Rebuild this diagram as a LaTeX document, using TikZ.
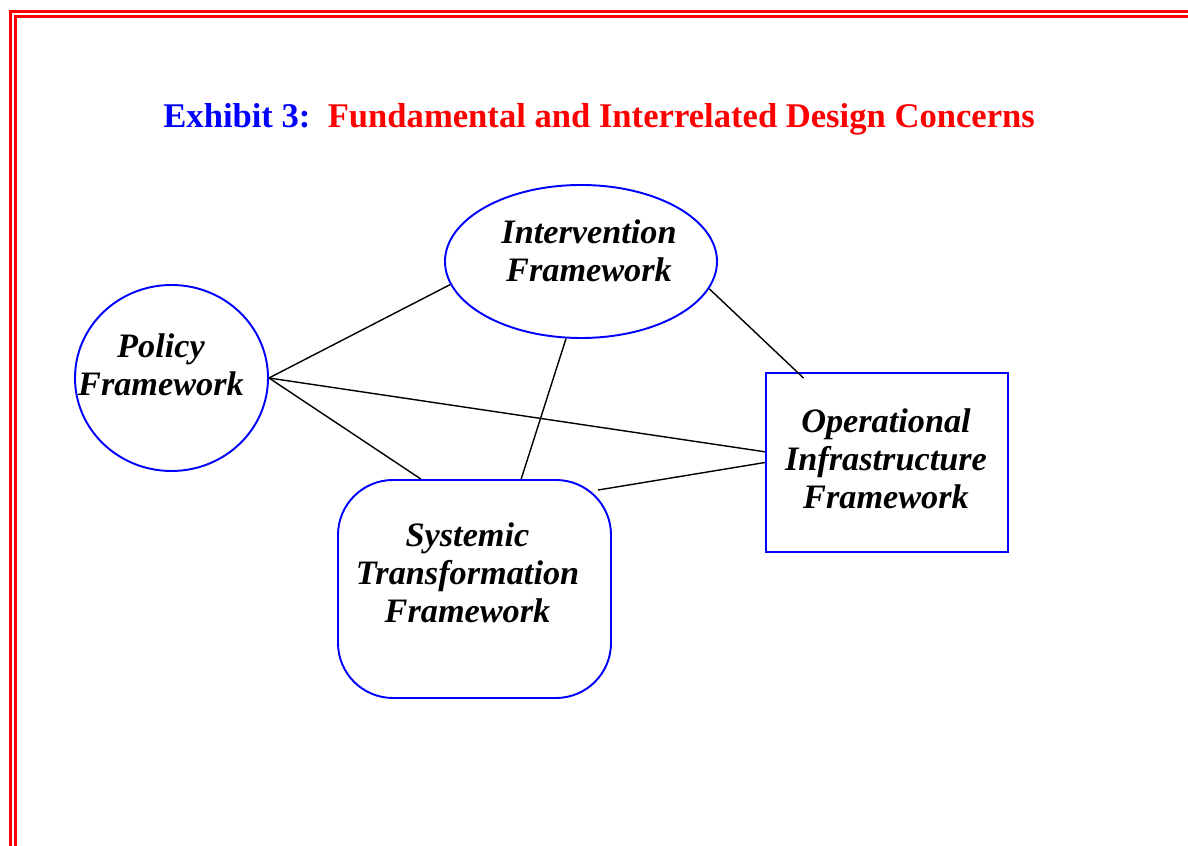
\documentclass[tikz,border=0pt]{standalone}
\usepackage{fontspec}
\setmainfont{Liberation Serif}
\usetikzlibrary{shapes.geometric}

\begin{document}
\begin{tikzpicture}[
	frame/.style={draw=blue,line width=1.1pt,inner sep=0pt},
	lbl/.style={align=center,font=\fontsize{19.5}{21.5}\selectfont\bfseries\itshape},
	link/.style={line width=0.8pt}]
			\useasboundingbox (0,0) rectangle (23.76,16.92);
			
			% double red border
			\draw[red,line width=1.7pt] (0.18,16.694) -- (23.76,16.694);
			\draw[red,line width=1.7pt] (0.21,16.72) -- (0.21,0);
			\draw[red,line width=1.7pt] (0.30,16.59) -- (23.76,16.59);
			\draw[red,line width=1.7pt] (0.31,16.62) -- (0.31,0);
			
			\node[anchor=base west,inner sep=0pt,font=\fontsize{19.7}{22}\selectfont\bfseries] (title) at (3.26,14.36)
				{\textcolor{blue}{Exhibit 3:}\ \ \textcolor{red}{Fundamental and Interrelated Design Concerns}};
			
			\node[frame,ellipse,minimum width=5.44cm,minimum height=3.06cm] (int) at (11.62,11.69) {};
			\node[frame,ellipse,minimum width=3.86cm,minimum height=3.72cm] (pol) at (3.43,9.36) {};
			\node[frame,rectangle,minimum width=4.84cm,minimum height=3.58cm] (op) at (17.74,7.67) {};
			\node[frame,rectangle,rounded corners=1.1cm,minimum width=5.46cm,minimum height=4.36cm] (sys) at (9.49,5.14) {};
			
			\node[lbl] (intT) at ([xshift=0.16cm,yshift=0.21cm]int.center) {Intervention\\Framework};
			\node[lbl] (polT) at ([xshift=-0.21cm,yshift=0.26cm]pol.center) {Policy\\Framework};
			\node[lbl] (opT) at ([xshift=-0.02cm,yshift=0.07cm]op.center) {Operational\\Infrastructure\\Framework};
			\node[lbl] (sysT) at ([xshift=-0.14cm,yshift=0.32cm]sys.center) {Systemic\\Transformation\\Framework};
			
			\draw[link] (pol.east) -- (int.190);
			\draw[link] (pol.east) -- (sys.116);
			\draw[link] (pol.east) -- (op.175);
			\draw[link] (int.259) -- (sys.67);
			\draw[link] (int.348) -- ([xshift=0.14cm,yshift=-0.12cm]op.135);
			\draw[link] ([xshift=-0.28cm,yshift=-0.22cm]sys.north east) -- (op.west);
		\end{tikzpicture}
\end{document}
